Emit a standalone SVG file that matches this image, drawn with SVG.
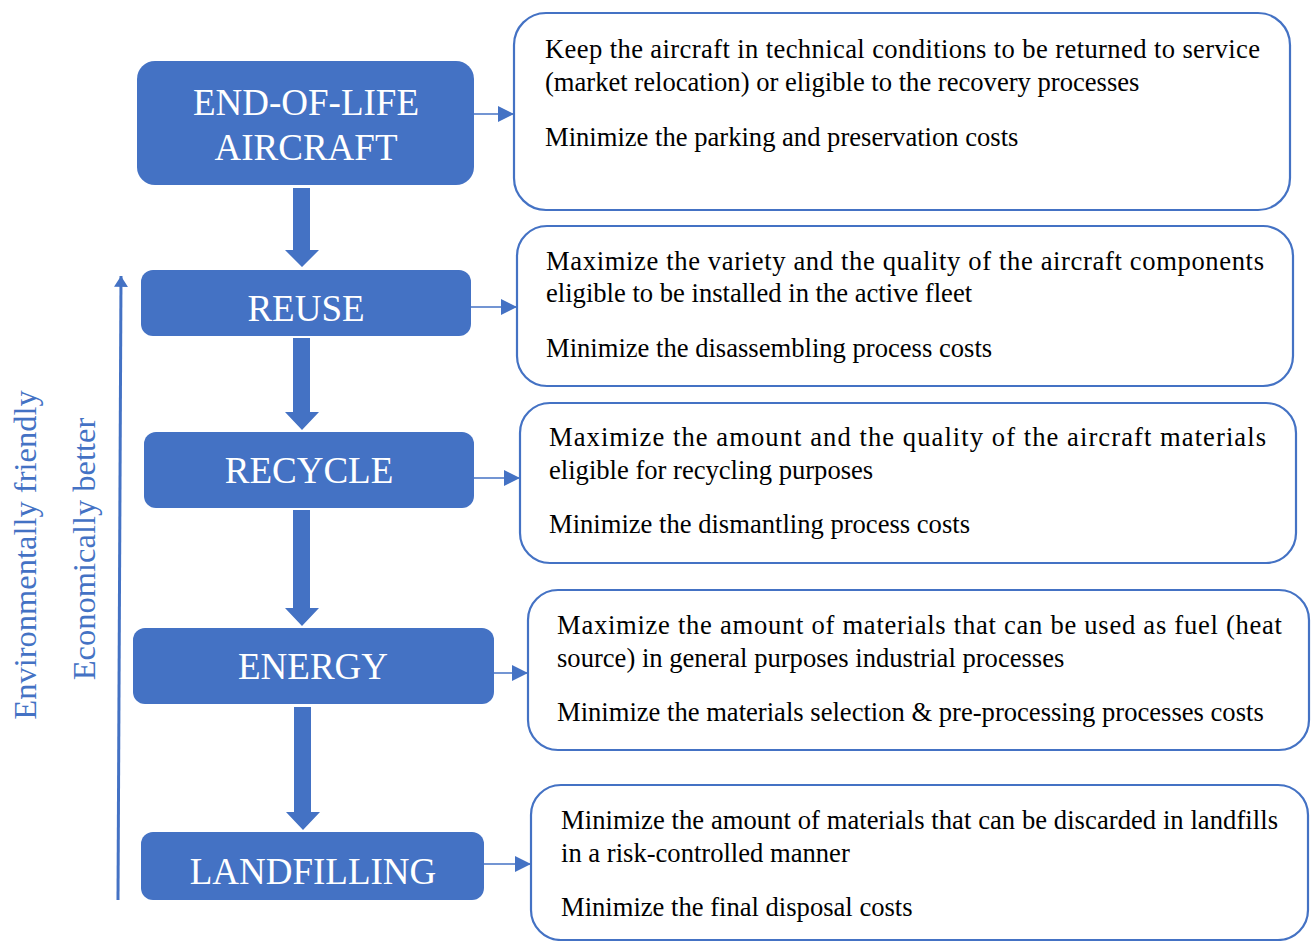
<svg xmlns="http://www.w3.org/2000/svg" width="1316" height="941" viewBox="0 0 1316 941">
<defs>
<style>
.node{fill:#4472C4;}
.lbl{font-family:"Liberation Serif","Times New Roman",serif;font-size:37px;fill:#ffffff;text-anchor:middle;}
.box{fill:#ffffff;stroke:#4472C4;stroke-width:2.2;}
.txt{font-family:"Liberation Serif","Times New Roman",serif;font-size:26.6px;fill:#000000;}
.side{font-family:"Liberation Serif","Times New Roman",serif;font-size:32.5px;fill:#4472C4;text-anchor:middle;}
.conn{stroke:#4472C4;stroke-width:1.5;fill:none;}
.blk{fill:#4472C4;}
</style>
<marker id="ah" viewBox="0 0 16 16" refX="16" refY="8" markerWidth="16" markerHeight="16" markerUnits="userSpaceOnUse" orient="auto">
<path d="M0,0 L16,8 L0,16 Z" fill="#4472C4"/>
</marker>
<marker id="ah2" viewBox="0 0 14 18" refX="14" refY="9" markerWidth="18" markerHeight="14" markerUnits="userSpaceOnUse" orient="auto">
<path d="M0,0 L14,9 L0,18 Z" fill="#4472C4"/>
</marker>
</defs>

<g id="connectors">
<path class="blk" d="M293,188 H310 V250 H319 L302,267 L285,250 H293 Z"/>
<path class="blk" d="M293,338 H310 V412 H319 L302,430 L285,412 H293 Z"/>
<path class="blk" d="M293,510 H310 V608 H319 L302,626 L285,608 H293 Z"/>
<path class="blk" d="M294,707 H311 V812 H320 L303,830 L286,812 H294 Z"/>
<line class="conn" x1="474" y1="114" x2="514" y2="114" marker-end="url(#ah)"/>
<line class="conn" x1="471" y1="307" x2="517" y2="307" marker-end="url(#ah)"/>
<line class="conn" x1="474" y1="478" x2="520" y2="478" marker-end="url(#ah)"/>
<line class="conn" x1="494" y1="673" x2="528" y2="673" marker-end="url(#ah)"/>
<line class="conn" x1="484" y1="864" x2="531" y2="864" marker-end="url(#ah)"/>
<line x1="118" y1="900" x2="121" y2="276" stroke="#4472C4" stroke-width="3" marker-end="url(#ah2)"/>
</g>

<g id="side-labels">
<text class="side" transform="translate(36,555) rotate(-90)">Environmentally  friendly</text>
<text class="side" transform="translate(95,549) rotate(-90)">Economically better</text>
</g>

<g id="n-eol">
<rect class="node" x="137" y="61" width="337" height="124" rx="18"/>
<text class="lbl" x="306" y="115">END-OF-LIFE</text>
<text class="lbl" x="306" y="160">AIRCRAFT</text>
</g>
<g id="n-reuse">
<rect class="node" x="141" y="270" width="330" height="66" rx="12"/>
<text class="lbl" x="306" y="321">REUSE</text>
</g>
<g id="n-recycle">
<rect class="node" x="144" y="432" width="330" height="76" rx="12"/>
<text class="lbl" x="309" y="483">RECYCLE</text>
</g>
<g id="n-energy">
<rect class="node" x="133" y="628" width="361" height="76" rx="12"/>
<text class="lbl" x="313" y="679">ENERGY</text>
</g>
<g id="n-landfill">
<rect class="node" x="141" y="832" width="343" height="68" rx="12"/>
<text class="lbl" x="313" y="884">LANDFILLING</text>
</g>

<g id="d-eol">
<rect class="box" x="514" y="13" width="776" height="197" rx="32"/>
<text class="txt" x="545" y="58" textLength="715" lengthAdjust="spacing">Keep the aircraft in technical conditions to be returned to service</text>
<text class="txt" x="545" y="91">(market relocation) or eligible to the recovery processes</text>
<text class="txt" x="545" y="146">Minimize the parking and preservation costs</text>
</g>
<g id="d-reuse">
<rect class="box" x="517" y="226" width="776" height="160" rx="30"/>
<text class="txt" x="546" y="270" textLength="718" lengthAdjust="spacing">Maximize the variety and the quality of the aircraft components</text>
<text class="txt" x="546" y="302">eligible to be installed in the active fleet</text>
<text class="txt" x="546" y="357">Minimize the disassembling process costs</text>
</g>
<g id="d-recycle">
<rect class="box" x="520" y="403" width="776" height="160" rx="30"/>
<text class="txt" x="549" y="446" textLength="717" lengthAdjust="spacing">Maximize the amount and the quality of the aircraft materials</text>
<text class="txt" x="549" y="479">eligible for recycling purposes</text>
<text class="txt" x="549" y="533">Minimize the dismantling process costs</text>
</g>
<g id="d-energy">
<rect class="box" x="528" y="590" width="781" height="160" rx="30"/>
<text class="txt" x="557" y="634" textLength="725" lengthAdjust="spacing">Maximize the amount of materials that can be used as fuel (heat</text>
<text class="txt" x="557" y="667">source) in general purposes industrial processes</text>
<text class="txt" x="557" y="721">Minimize the materials selection &amp; pre-processing processes costs</text>
</g>
<g id="d-landfill">
<rect class="box" x="531" y="785" width="777" height="155" rx="30"/>
<text class="txt" x="561" y="829" textLength="717" lengthAdjust="spacing">Minimize the amount of materials that can be discarded in landfills</text>
<text class="txt" x="561" y="862">in a risk-controlled manner</text>
<text class="txt" x="561" y="916">Minimize the final disposal costs</text>
</g>
</svg>
